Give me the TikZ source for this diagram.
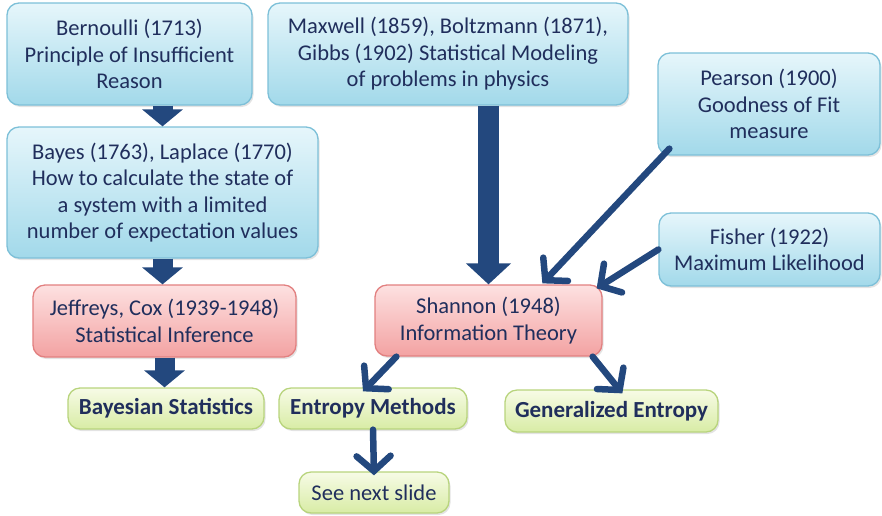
\documentclass[tikz,border=0pt]{standalone}
\usepackage{fontspec}
\setmainfont{Carlito}
\usetikzlibrary{arrows.meta,shadows}

\newlength{\du}
\setlength{\du}{1pt}

\definecolor{txtcolor}{RGB}{32,46,92}
\definecolor{arrowcolor}{RGB}{35,72,126}
\definecolor{bluetop}{RGB}{230,246,251}
\definecolor{bluebot}{RGB}{162,217,234}
\definecolor{blueline}{RGB}{125,192,216}
\definecolor{redtop}{RGB}{253,225,225}
\definecolor{redbot}{RGB}{243,162,162}
\definecolor{redline}{RGB}{226,128,128}
\definecolor{greentop}{RGB}{247,251,230}
\definecolor{greenbot}{RGB}{216,236,165}
\definecolor{greenline}{RGB}{184,212,125}

\tikzset{
  box/.style={rounded corners=12\du, line width=1.3\du, align=center, inner sep=0pt,
    text=txtcolor, font=\fontsize{22.5}{26.5}\selectfont,
    drop shadow={opacity=0.22, shadow xshift=1.5\du, shadow yshift=-2\du}},
  bluebox/.style={box, draw=blueline, top color=bluetop, bottom color=bluebot},
  redbox/.style={box, draw=redline, top color=redtop, bottom color=redbot},
  greenbox/.style={box, draw=greenline, top color=greentop, bottom color=greenbot},
  boldtext/.style={font=\fontsize{23}{26.5}\selectfont\bfseries},
  fatarrow/.style={draw=arrowcolor, line width=20\du, -{Triangle[length=17pt,width=40pt]}},
  thinarrow/.style={draw=arrowcolor, line width=6.5\du, line cap=round,
    -{Straight Barb[length=15pt,width=34pt,line cap=round]}},
}

\begin{document}
\begin{tikzpicture}[x=1\du, y=-1\du]
\useasboundingbox (0,0) rectangle (882,515);
% boxes
\node[bluebox, minimum width=245\du, minimum height=102\du] (bernoulli) at (129.5,54)
  {Bernoulli (1713)\\Principle of Insufficient\\Reason};
\node[bluebox, minimum width=360\du, minimum height=102\du] (maxwell) at (448,54)
  {Maxwell (1859), Boltzmann (1871),\\Gibbs (1902) Statistical Modeling\\of problems in physics};
\node[bluebox, minimum width=222\du, minimum height=102\du] (pearson) at (769,104)
  {Pearson (1900)\\Goodness of Fit\\measure};
\node[bluebox, minimum width=311\du, minimum height=131\du] (bayes) at (162.5,192.5)
  {Bayes (1763), Laplace (1770)\\How to calculate the state of\\a system with a limited\\number of expectation values};
\node[bluebox, minimum width=221\du, minimum height=73\du] (fisher) at (769.5,249.5)
  {Fisher (1922)\\Maximum Likelihood};
\node[redbox, minimum width=263\du, minimum height=72\du] (jeffreys) at (164.5,321)
  {Jeffreys, Cox (1939-1948)\\Statistical Inference};
\node[redbox, minimum width=227\du, minimum height=71\du] (shannon) at (488.5,320.5)
  {Shannon (1948)\\Information Theory};
\node[greenbox, boldtext, minimum width=196\du, minimum height=41\du] (bayesian) at (166,408.5)
  {Bayesian Statistics};
\node[greenbox, boldtext, minimum width=188\du, minimum height=41\du] (entropy) at (373,408.5)
  {Entropy Methods};
\node[greenbox, boldtext, minimum width=213\du, minimum height=42\du] (general) at (611.5,411)
  {Generalized Entropy};
\node[greenbox, minimum width=150\du, minimum height=41\du] (seenext) at (374,492.5)
  {See next slide};

% block arrows
\draw[fatarrow] (bayes.north |- bernoulli.south) -- (bayes.north);
\draw[fatarrow] (bayes.south) -- (bayes.south |- jeffreys.north);
\draw[fatarrow] (jeffreys.south) -- (jeffreys.south |- bayesian.north);
\draw[fatarrow, line width=21\du, -{Triangle[length=21pt,width=44pt]}] (shannon.north |- maxwell.south) -- (shannon.north);

% thin arrows
\draw[thinarrow] ([xshift=12\du,yshift=7\du]pearson.south west) -- ([xshift=168\du,yshift=1\du]shannon.north west);
\draw[thinarrow] (fisher.west) -- ([xshift=-6\du,yshift=-4\du]shannon.north east);
\draw[thinarrow] ([xshift=22\du]shannon.south west) -- ([xshift=-10\du,yshift=-4\du]entropy.north);
\draw[thinarrow] ([xshift=-10\du]shannon.south east) -- ([xshift=118\du,yshift=-4\du]general.north west);
\draw[thinarrow] (entropy.south) -- ([yshift=-4\du]seenext.north);
\end{tikzpicture}
\end{document}
